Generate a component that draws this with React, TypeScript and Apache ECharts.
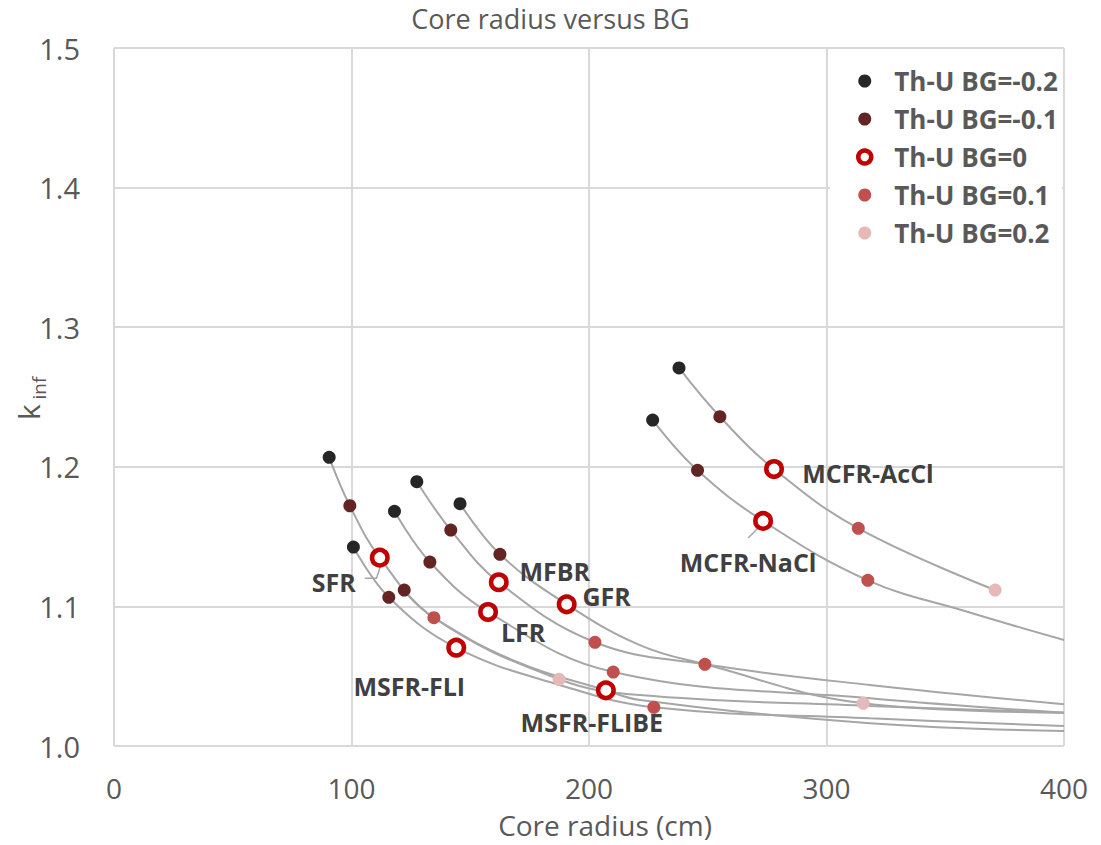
import React, { useEffect, useRef } from 'react';
import * as echarts from 'echarts';

const FONT = '"Open Sans", "Noto Sans", sans-serif';

// Axis ticks
const xTickValues = [0, 100, 200, 300, 400];
const yTickValues = [1.0, 1.1, 1.2, 1.3, 1.4, 1.5];

// Legend / series names
const seriesNames = ['Th-U BG=-0.2', 'Th-U BG=-0.1', 'Th-U BG=0', 'Th-U BG=0.1', 'Th-U BG=0.2'];

// Points per breeding-gain class: [core radius (cm), k_inf]
const bgMinus02: number[][] = [
  [90.6, 1.2068], [100.8, 1.1425], [118.1, 1.1681], [127.5, 1.1893],
  [145.7, 1.1736], [226.8, 1.2335], [237.9, 1.2708],
];
const bgMinus01: number[][] = [
  [99.3, 1.1721], [115.7, 1.1065], [122.2, 1.1117], [133.0, 1.1318],
  [141.8, 1.1547], [162.5, 1.1373], [245.7, 1.1975], [255.1, 1.2359],
];
const reactorNames = ['SFR', 'MSFR-FLI', 'LFR', 'MFBR', 'GFR', 'MSFR-FLIBE', 'MCFR-NaCl', 'MCFR-AcCl'];
const bgZeroX = [111.9, 144.1, 157.5, 162.0, 190.6, 207.1, 273.3, 277.9];
const bgZeroY = [1.1349, 1.0704, 1.0960, 1.1173, 1.1015, 1.0399, 1.1612, 1.1984];
const bgPlus01: number[][] = [
  [134.7, 1.0919], [202.5, 1.0743], [210.2, 1.0530], [227.3, 1.0277],
  [248.8, 1.0585], [313.4, 1.1559], [317.4, 1.1187],
];
const bgPlus02: number[][] = [
  [187.4, 1.0478], [315.5, 1.0306], [371.0, 1.1117],
];

// Grey trend curves
const curveSFR = [[90.6, 1.2068], [99.3, 1.1721], [111.9, 1.1349], [134.7, 1.0919], [187.4, 1.0478], [221.4, 1.0365], [318.3, 1.0287], [400, 1.0239]];
const curveFLI = [[100.8, 1.1425], [115.7, 1.1065], [144.1, 1.0704], [187.7, 1.0437], [227.3, 1.0277], [318.3, 1.0198], [400, 1.0143]];
const curveFLIBE = [[122.2, 1.1117], [134.7, 1.0919], [170.0, 1.0600], [207.1, 1.0399], [221.4, 1.0330], [318.3, 1.0163], [400, 1.0107]];
const curveLFR = [[118.1, 1.1681], [133.0, 1.1318], [157.5, 1.0960], [210.2, 1.0530], [318.3, 1.0342], [400, 1.0239]];
const curveMFBR = [[127.5, 1.1893], [141.8, 1.1547], [162.0, 1.1173], [202.5, 1.0743], [248.8, 1.0585], [318.3, 1.0437], [400, 1.0299]];
const curveGFR = [[145.7, 1.1736], [162.5, 1.1373], [190.6, 1.1015], [221.4, 1.0723], [248.8, 1.0585], [315.5, 1.0306], [400, 1.0239]];
const curveNaCl = [[226.8, 1.2335], [245.7, 1.1975], [273.3, 1.1612], [317.4, 1.1187], [358.9, 1.0963], [400, 1.0759]];
const curveAcCl = [[237.9, 1.2708], [255.1, 1.2359], [277.9, 1.1984], [313.4, 1.1559], [371.0, 1.1117]];

const labelOffsets: Record<string, number[]> = {
  'SFR': [-46, 24],
  'MSFR-FLI': [-47, 38],
  'LFR': [35, 20],
  'MFBR': [56, -11],
  'GFR': [40, -8],
  'MSFR-FLIBE': [-14, 32],
  'MCFR-NaCl': [-15, 41],
  'MCFR-AcCl': [94, 4],
};
// leader lines, relative to the marker centre (pixels)
const leaderShapes: Record<string, number[][]> = {
  'SFR': [[-15, 20.6], [-3.3, 20.6], [1.7, 5.6]],
  'MCFR-NaCl': [[-15, 17], [0, 2]],
};

const colors = ['#262626', '#632523', '#C00000', '#C0504D', '#E6B9B8'];

export default function App() {
  const ref = useRef<HTMLDivElement>(null);

  useEffect(() => {
    const chart = echarts.init(ref.current as HTMLDivElement, null, { renderer: 'svg' });

    const curves = [curveSFR, curveFLI, curveFLIBE, curveLFR, curveMFBR, curveGFR, curveNaCl, curveAcCl];
    const lineSeries = curves.map((pts, i) => ({
      type: 'line',
      name: 'trend' + i,
      data: pts,
      smooth: 0.4,
      symbol: 'none',
      silent: true,
      z: 1,
      lineStyle: { color: '#A6A6A6', width: 2 },
    }));

    const solid = (name: string, data: number[][], color: string) => ({
      type: 'scatter',
      name,
      data,
      symbol: 'circle',
      symbolSize: 13,
      z: 3,
      itemStyle: { color, opacity: 1 },
    });

    const ringData = reactorNames.map((n, i) => ({
      name: n,
      value: [bgZeroX[i], bgZeroY[i]],
      label: { offset: labelOffsets[n] },
    }));

    const staticGraphics: any[] = [
      {
        type: 'text', x: 605, y: 825, silent: true,
        style: { text: 'Core radius (cm)', fontFamily: FONT, fontSize: 28, lineHeight: 28, fill: '#595959', align: 'center', verticalAlign: 'middle' },
      },
      {
        type: 'text', x: 28, y: 412, rotation: Math.PI / 2, silent: true,
        style: { text: 'k', fontFamily: FONT, fontSize: 30, fill: '#595959', align: 'center', verticalAlign: 'middle' },
      },
      {
        type: 'text', x: 39, y: 388, rotation: Math.PI / 2, silent: true,
        style: { text: 'inf', fontFamily: FONT, fontSize: 19, fill: '#595959', align: 'center', verticalAlign: 'middle' },
      },
    ];

    chart.setOption({
      animation: false,
      backgroundColor: '#ffffff',
      title: {
        text: 'Core radius versus BG',
        left: 'center',
        top: 0,
        textStyle: { fontFamily: FONT, fontSize: 27, fontWeight: 'normal', color: '#595959' },
      },
      grid: { left: 114, right: 37, top: 48, bottom: 99 },
      xAxis: {
        type: 'value',
        min: xTickValues[0],
        max: xTickValues[xTickValues.length - 1],
        interval: 100,
        axisLine: { show: false },
        axisTick: { show: false },
        splitLine: { show: true, lineStyle: { color: '#D9D9D9', width: 2 } },
        axisLabel: { fontFamily: FONT, fontSize: 28, lineHeight: 28, color: '#595959', margin: 28 },
      },
      yAxis: {
        type: 'value',
        min: yTickValues[0],
        max: yTickValues[yTickValues.length - 1],
        interval: 0.1,
        axisLine: { show: false },
        axisTick: { show: false },
        splitLine: { show: true, lineStyle: { color: '#D9D9D9', width: 2 } },
        axisLabel: {
          fontFamily: FONT, fontSize: 29, color: '#595959', margin: 34,
          formatter: (v: number) => v.toFixed(1),
        },
      },
      legend: {
        data: seriesNames,
        orient: 'vertical',
        left: 830,
        top: 60,
        padding: [8, 4, 8, 26],
        itemWidth: 13,
        itemHeight: 13,
        itemGap: 12,
        backgroundColor: '#ffffff',
        itemStyle: { borderWidth: 'inherit' },
        textStyle: {
          fontFamily: FONT, fontSize: 26, fontWeight: 'bold', color: '#595959',
          lineHeight: 26, padding: [0, 0, 0, 18],
        },
      },
      graphic: staticGraphics,
      series: [
        ...lineSeries,
        solid(seriesNames[0], bgMinus02, colors[0]),
        solid(seriesNames[1], bgMinus01, colors[1]),
        {
          type: 'scatter',
          name: seriesNames[2],
          data: ringData,
          symbol: 'circle',
          symbolSize: 15.5,
          z: 4,
          itemStyle: { color: '#ffffff', borderColor: colors[2], borderWidth: 4.5, opacity: 1 },
          label: {
            show: true,
            position: 'inside',
            formatter: '{b}',
            fontFamily: FONT,
            fontSize: 25,
            fontWeight: 'bold',
            color: '#404040',
          },
        },
        solid(seriesNames[3], bgPlus01, colors[3]),
        solid(seriesNames[4], bgPlus02, colors[4]),
      ],
    });

    // leader lines anchored to the data markers through the chart's own scales
    const leaders = Object.keys(leaderShapes).map((n) => {
      const i = reactorNames.indexOf(n);
      const p = chart.convertToPixel({ gridIndex: 0 }, [bgZeroX[i], bgZeroY[i]]) as number[];
      return {
        type: 'polyline',
        silent: true,
        z: 2,
        shape: { points: leaderShapes[n].map(([dx, dy]) => [p[0] + dx, p[1] + dy]) },
        style: { stroke: '#A6A6A6', lineWidth: 1.5, fill: 'none' },
      };
    });
    chart.setOption({ graphic: [...staticGraphics, ...leaders] });

    return () => chart.dispose();
  }, []);

  return <div ref={ref} style={{ position: 'absolute', left: 0, top: 0, width: 1101, height: 845 }} />;
}
